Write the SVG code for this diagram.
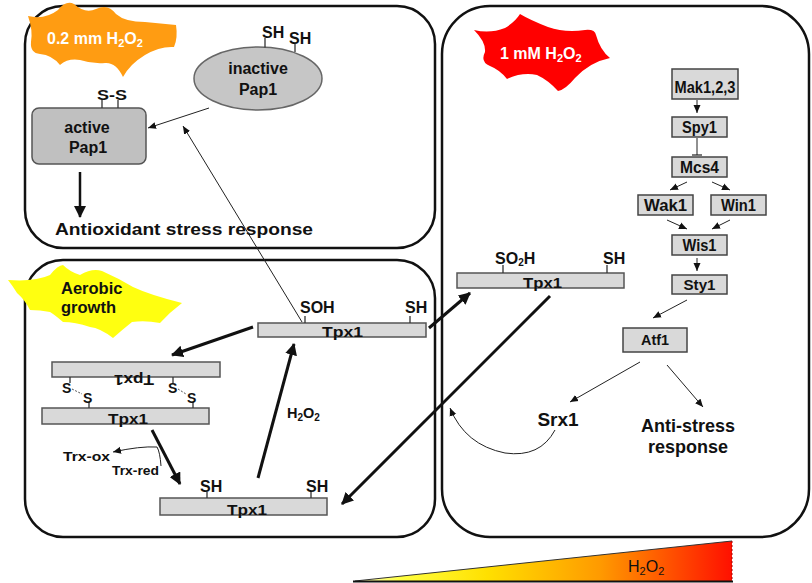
<svg xmlns="http://www.w3.org/2000/svg" width="812" height="583" viewBox="0 0 812 583">
<style>
text{font-family:"Liberation Sans",Arial,sans-serif;font-weight:bold;fill:#111}
.panel{fill:none;stroke:#111;stroke-width:2.5}
.bar{fill:#d9d9d9;stroke:#555;stroke-width:1.5}
.box{fill:#d9d9d9;stroke:#444;stroke-width:1.5}
.tick{stroke:#333;stroke-width:1.3}
.thick{stroke:#111;stroke-width:3;fill:none}
.thin{stroke:#222;stroke-width:1;fill:none}
.lbl{font-size:16px}
.kb{font-size:16px}
</style>
<defs>
<marker id="big" markerUnits="userSpaceOnUse" markerWidth="14" markerHeight="12" refX="11" refY="6" orient="auto">
<path d="M0,0 L12,6 L0,12 Z" fill="#111"/>
</marker>
<marker id="sm" markerUnits="userSpaceOnUse" markerWidth="9" markerHeight="8" refX="8" refY="4" orient="auto">
<path d="M0,0.5 L8,4 L0,7.5 Z" fill="#111"/>
</marker>
<linearGradient id="grad" x1="355" y1="0" x2="732" y2="0" gradientUnits="userSpaceOnUse">
<stop offset="0" stop-color="#ffffd0"/>
<stop offset="0.12" stop-color="#ffff40"/>
<stop offset="0.35" stop-color="#ffe000"/>
<stop offset="0.65" stop-color="#ff9a00"/>
<stop offset="1" stop-color="#ff1000"/>
</linearGradient>
</defs>

<g id="panels">
<rect class="panel" x="25" y="6" width="410" height="242" rx="38"/>
<rect class="panel" x="25" y="260" width="410" height="277" rx="38"/>
<rect class="panel" x="442" y="6" width="367" height="531" rx="48"/>
</g>

<g id="blob-orange">
<path d="M28,16 Q45,20 58,10 Q66,0 74,4 Q85,14 96,9 Q108,3 116,14 Q125,22 145,22 L176,25 Q178,38 174,47 Q160,46 145,55 Q130,64 123,77 Q116,62 105,63 Q92,64 80,60 Q68,58 60,65 Q52,55 40,54 Q30,53 31,42 Q33,30 28,16 Z" fill="#ff9c12"/>
<text x="47" y="44" font-size="16" style="fill:#fff">0.2 mm H<tspan font-size="11" dy="3">2</tspan><tspan dy="-3">O</tspan><tspan font-size="11" dy="3">2</tspan></text>
</g>

<g id="blob-red">
<path d="M474,30 Q490,34 505,28 Q515,22 520,14 Q530,20 548,27 Q565,33 585,30 Q595,29 596,35 Q600,50 610,58 Q590,62 575,78 Q565,90 558,91 Q548,80 537,75 Q522,72 507,79 Q500,70 490,66 Q480,62 485,52 Q486,42 474,30 Z" fill="#ff0000"/>
<text x="500" y="59" font-size="16" style="fill:#fff">1 mM H<tspan font-size="11" dy="3">2</tspan><tspan dy="-3">O</tspan><tspan font-size="11" dy="3">2</tspan></text>
</g>

<g id="blob-yellow">
<path d="M8,280 Q35,282 50,275 Q58,265 63,265 Q70,272 80,275 Q92,268 102,271 Q118,278 133,287 Q150,295 182,303 Q170,312 160,323 Q145,320 132,322 Q122,330 113,338 Q100,328 90,327 Q75,322 63,322 Q55,315 50,312 Q40,310 30,310 Q25,300 17,293 Q12,285 8,280 Z" fill="#ffff10"/>
<text x="61" y="294" font-size="16.5">Aerobic</text>
<text x="61" y="313" font-size="16.5">growth</text>
</g>

<g id="inactive-pap1">
<ellipse cx="258" cy="78.5" rx="64" ry="31.5" fill="#c6c6c6" stroke="#666" stroke-width="1.5"/>
<line class="tick" x1="265" y1="38" x2="265" y2="47.5"/>
<line class="tick" x1="295" y1="44" x2="295" y2="52"/>
<text x="262" y="38" class="lbl">SH</text>
<text x="289" y="44" class="lbl">SH</text>
<text x="258" y="74" font-size="16" text-anchor="middle">inactive</text>
<text x="258" y="95" font-size="16" text-anchor="middle">Pap1</text>
</g>

<g id="active-pap1">
<rect x="32" y="108" width="114" height="56" rx="7" fill="#c0c0c0" stroke="#555" stroke-width="1.5"/>
<line class="tick" x1="102" y1="100" x2="102" y2="108"/>
<line class="tick" x1="118" y1="100" x2="118" y2="108"/>
<text x="97" y="100" font-size="14" textLength="30" lengthAdjust="spacingAndGlyphs">S-S</text>
<text x="87" y="133" font-size="16" text-anchor="middle">active</text>
<text x="88" y="153" font-size="16" text-anchor="middle">Pap1</text>
</g>

<g id="antioxidant-response">
<text x="55" y="235" font-size="17" textLength="258" lengthAdjust="spacingAndGlyphs">Antioxidant stress response</text>
</g>

<g id="tpx1-soh">
<rect class="bar" x="258" y="323" width="168" height="14"/>
<line class="tick" x1="305" y1="316" x2="305" y2="323"/>
<line class="tick" x1="410" y1="316" x2="410" y2="323"/>
<text x="300" y="313" class="lbl">SOH</text>
<text x="405" y="313" class="lbl">SH</text>
<text x="322" y="337" font-size="14" textLength="41" lengthAdjust="spacingAndGlyphs">Tpx1</text>
</g>

<g id="tpx1-flipped">
<rect class="bar" x="52" y="362" width="168" height="15"/>
<text x="0" y="0" font-size="14" textLength="40" lengthAdjust="spacingAndGlyphs" transform="translate(134,365) rotate(180) translate(-20,-10)">Tpx1</text>
</g>

<g id="tpx1-dimer">
<rect class="bar" x="42" y="408" width="167" height="16"/>
<line class="tick" x1="70" y1="377" x2="70" y2="383"/>
<line class="tick" x1="173" y1="377" x2="173" y2="383"/>
<line class="tick" x1="89" y1="402" x2="89" y2="408"/>
<line class="tick" x1="193" y1="402" x2="193" y2="408"/>
<text x="62" y="393" font-size="14">S</text>
<text x="83" y="403" font-size="14">S</text>
<text x="168" y="393" font-size="14">S</text>
<text x="187" y="403" font-size="14">S</text>
<line x1="72" y1="389" x2="82" y2="394" stroke="#555" stroke-width="1" stroke-dasharray="2,1.5"/>
<line x1="178" y1="389" x2="186" y2="394" stroke="#555" stroke-width="1" stroke-dasharray="2,1.5"/>
<text x="108" y="424" font-size="14" textLength="40" lengthAdjust="spacingAndGlyphs">Tpx1</text>
</g>

<g id="tpx1-sh">
<rect class="bar" x="160" y="498" width="167" height="17"/>
<line class="tick" x1="207" y1="492" x2="207" y2="498"/>
<line class="tick" x1="311" y1="492" x2="311" y2="498"/>
<text x="200" y="492" class="lbl">SH</text>
<text x="306" y="492" class="lbl">SH</text>
<text x="227" y="515" font-size="14" textLength="40" lengthAdjust="spacingAndGlyphs">Tpx1</text>
</g>

<g id="tpx1-so2h">
<rect class="bar" x="457" y="273" width="167" height="15"/>
<line class="tick" x1="503" y1="265" x2="503" y2="273"/>
<line class="tick" x1="607" y1="265" x2="607" y2="273"/>
<text x="495" y="264" class="lbl">SO<tspan font-size="10" dy="2">2</tspan><tspan dy="-2">H</tspan></text>
<text x="603" y="264" class="lbl">SH</text>
<text x="523" y="288" font-size="14" textLength="39" lengthAdjust="spacingAndGlyphs">Tpx1</text>
</g>

<g id="trx">
<text x="63" y="461" font-size="13" textLength="47" lengthAdjust="spacingAndGlyphs">Trx-ox</text>
<text x="112" y="475" font-size="13" textLength="47" lengthAdjust="spacingAndGlyphs">Trx-red</text>
</g>

<g id="h2o2-label">
<text x="287" y="418" font-size="14.5">H<tspan font-size="10" dy="3">2</tspan><tspan dy="-3">O</tspan><tspan font-size="10" dy="3">2</tspan></text>
</g>

<g id="mak">
<rect class="box" x="672" y="69" width="66" height="30"/>
<text x="705" y="93" class="kb" text-anchor="middle" textLength="61" lengthAdjust="spacingAndGlyphs">Mak1,2,3</text>
</g>
<g id="spy1">
<rect class="box" x="672" y="117" width="55" height="20"/>
<text x="699.5" y="133" class="kb" text-anchor="middle" textLength="35" lengthAdjust="spacingAndGlyphs">Spy1</text>
</g>
<g id="mcs4">
<rect class="box" x="672" y="157" width="55" height="20"/>
<text x="699.5" y="173" class="kb" text-anchor="middle" textLength="39" lengthAdjust="spacingAndGlyphs">Mcs4</text>
</g>
<g id="wak1">
<rect class="box" x="638" y="195" width="55" height="20"/>
<text x="665.5" y="211" class="kb" text-anchor="middle" textLength="43" lengthAdjust="spacingAndGlyphs">Wak1</text>
</g>
<g id="win1">
<rect class="box" x="711" y="195" width="55" height="20"/>
<text x="738.5" y="211" class="kb" text-anchor="middle" textLength="35" lengthAdjust="spacingAndGlyphs">Win1</text>
</g>
<g id="wis1">
<rect class="box" x="672" y="235" width="55" height="20"/>
<text x="699.5" y="251" class="kb" text-anchor="middle" textLength="34" lengthAdjust="spacingAndGlyphs">Wis1</text>
</g>
<g id="sty1">
<rect class="box" x="672" y="275" width="55" height="19"/>
<text x="699.5" y="290" font-size="14" text-anchor="middle" textLength="32" lengthAdjust="spacingAndGlyphs">Sty1</text>
</g>
<g id="atf1">
<rect class="box" x="623" y="328" width="64" height="24"/>
<text x="655" y="345" font-size="14" text-anchor="middle" textLength="28" lengthAdjust="spacingAndGlyphs">Atf1</text>
</g>
<g id="srx1">
<text x="558" y="426" font-size="19" text-anchor="middle">Srx1</text>
</g>
<g id="anti-stress">
<text x="688" y="432" font-size="18" text-anchor="middle">Anti-stress</text>
<text x="688" y="453" font-size="18" text-anchor="middle">response</text>
</g>

<g id="gradient">
<polygon points="355,581 732,581 732,541" fill="url(#grad)"/>
<line x1="355" y1="581" x2="732" y2="541" stroke="#333" stroke-width="1"/>
<line x1="732" y1="541" x2="732" y2="581" stroke="#a00" stroke-width="1" stroke-dasharray="2,2"/>
<line x1="353" y1="581.5" x2="733" y2="581.5" stroke="#111" stroke-width="2"/>
<text x="628" y="572" font-size="16" style="font-weight:normal">H<tspan font-size="11" dy="3">2</tspan><tspan dy="-3">O</tspan><tspan font-size="11" dy="3">2</tspan></text>
</g>

<g id="connectors">
<line class="thin" x1="209" y1="108" x2="148" y2="128" marker-end="url(#sm)"/>
<line class="thin" x1="302" y1="322" x2="183" y2="126" marker-end="url(#sm)"/>
<line stroke="#111" stroke-width="2.5" x1="80" y1="172" x2="80" y2="217" marker-end="url(#big)"/>
<line class="thick" x1="253" y1="327" x2="172" y2="355" marker-end="url(#big)"/>
<line class="thick" x1="152" y1="430" x2="180" y2="484" marker-end="url(#big)"/>
<line class="thick" x1="258" y1="478" x2="294" y2="344" marker-end="url(#big)"/>
<line class="thick" x1="429" y1="328" x2="470" y2="293" marker-end="url(#big)"/>
<line class="thick" x1="550" y1="296" x2="342" y2="504" marker-end="url(#big)"/>
<path class="thin" d="M161,466 Q160,452 157,447 Q140,446 113,452" marker-end="url(#sm)"/>
<line class="thin" x1="697" y1="100" x2="697" y2="113" marker-end="url(#sm)"/>
<line class="thin" x1="697" y1="138" x2="697" y2="155"/>
<line x1="692" y1="155" x2="702" y2="155" stroke="#222" stroke-width="1.2"/>
<line class="thin" x1="687" y1="182" x2="670" y2="190" marker-end="url(#sm)"/>
<line class="thin" x1="712" y1="182" x2="730" y2="190" marker-end="url(#sm)"/>
<line class="thin" x1="667" y1="220" x2="687" y2="229" marker-end="url(#sm)"/>
<line class="thin" x1="730" y1="220" x2="712" y2="229" marker-end="url(#sm)"/>
<line class="thin" x1="697" y1="258" x2="697" y2="271" marker-end="url(#sm)"/>
<line class="thin" x1="687" y1="300" x2="653" y2="318" marker-end="url(#sm)"/>
<line class="thin" x1="640" y1="362" x2="570" y2="402" marker-end="url(#sm)"/>
<line class="thin" x1="667" y1="365" x2="703" y2="407" marker-end="url(#sm)"/>
<path class="thin" d="M555,430 Q540,458 505,453 Q465,445 450,408" marker-end="url(#sm)"/>
</g>
</svg>
